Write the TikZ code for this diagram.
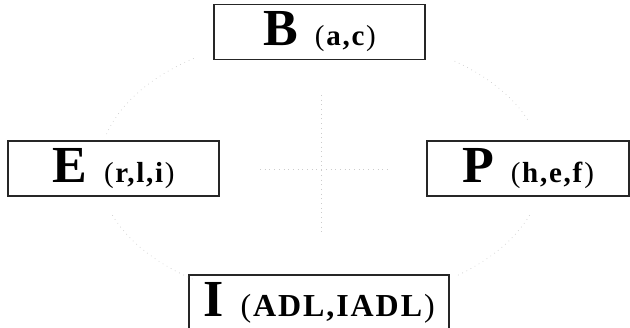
\documentclass[tikz,border=0pt]{standalone}
\usepackage{fontspec}
\setmainfont{Liberation Serif}
\newfontfamily\spacedfont[LetterSpace=6]{Liberation Serif}
\newcommand\dimtext[3][29]{{\fontsize{52}{52}\selectfont\bfseries #2}\hspace{17pt}{\spacedfont\fontsize{#1}{#1}\selectfont (\textbf{#3})}}

\begin{document}
\begin{tikzpicture}[x=1pt,y=1pt,
 dimbox/.style={draw=black!85,line width=1.3pt,inner sep=0pt,minimum height=55pt},
 faint/.style={black!20,line width=.7pt,dash pattern=on .7pt off 4pt}]
\useasboundingbox (0,0) rectangle (630,328);

\node[dimbox,minimum width=211pt] (boxB) at (319.5,296) {\dimtext{B}{a,c}};
\node[dimbox,minimum width=211pt] (boxE) at (113.5,159.5) {\dimtext{E}{r,l,i}};
\node[dimbox,minimum width=202pt] (boxP) at (528,159.5) {\dimtext{P}{h,e,f}};
\node[dimbox,minimum width=260pt] (boxI) at (319,25.5) {\dimtext[32]{I}{ADL,IADL}};

% faded ring and cross
\coordinate (hub) at (321,159);
\draw[faint] (hub) ++(125:222 and 135) arc[start angle=125,end angle=165,x radius=222,y radius=135];
\draw[faint] (hub) ++(53:222 and 135) arc[start angle=53,end angle=20,x radius=222,y radius=135];
\draw[faint] (hub) ++(200:222 and 135) arc[start angle=200,end angle=235,x radius=222,y radius=135];
\draw[faint] (hub) ++(-20:222 and 135) arc[start angle=-20,end angle=-52,x radius=222,y radius=135];
\draw[faint] (hub) ++(0,74) -- ++(0,-138);
\draw[faint] (hub) ++(-61,0) -- ++(127,0);
\end{tikzpicture}
\end{document}
